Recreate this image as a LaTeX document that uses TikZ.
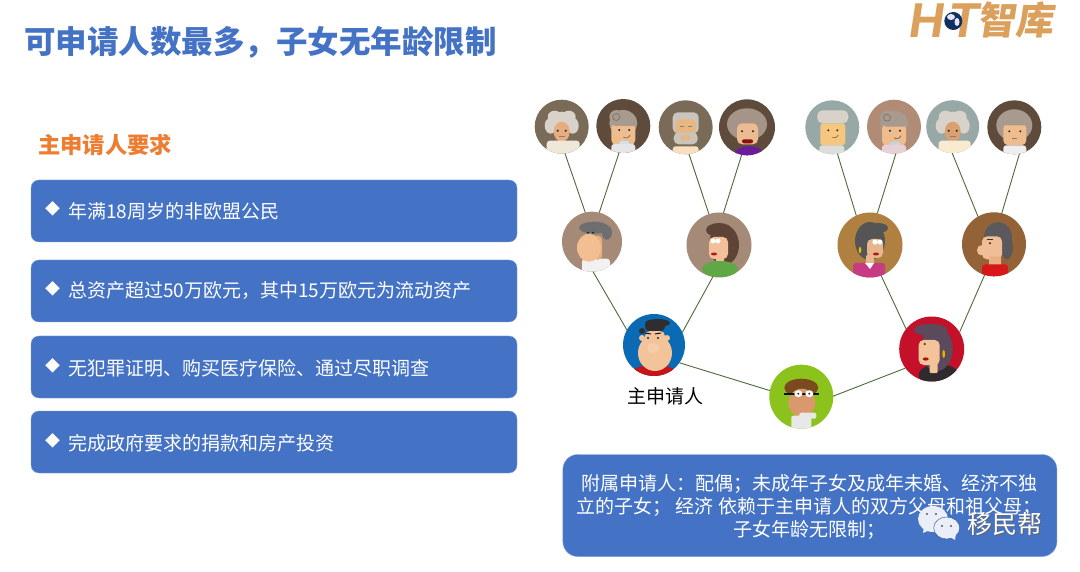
\documentclass[tikz,border=0pt]{standalone}
\usepackage{fontspec}
\setmainfont{Noto Sans CJK SC}
\newfontfamily\logofont{Liberation Sans}
\definecolor{boxblue}{HTML}{4472C4}
\definecolor{linkgreen}{HTML}{4F6A3A}
\definecolor{headorange}{HTML}{ED7D31}
\definecolor{logotan}{HTML}{DBA05C}
\definecolor{bgA}{HTML}{7A6B58}
\definecolor{bgB}{HTML}{5E4B3C}
\definecolor{bgC}{HTML}{97A8A6}
\definecolor{bgD}{HTML}{B08C76}
\definecolor{bgE}{HTML}{A58A77}
\definecolor{skin}{HTML}{EFBC8E}
\definecolor{wisp}{HTML}{D9D2CA}
\definecolor{ash}{HTML}{A89A8E}
\newcommand\dc[1]{\definecolor{#1}{HTML}{#1}}
\dc{E6AE80}\dc{EFE8DA}\dc{E6E6EA}\dc{CFE0EE}\dc{C9C4BC}\dc{E8B680}\dc{F8DFC0}\dc{A69488}\dc{EDBB92}\dc{8B1010}\dc{6A1B9A}\dc{F5C77E}\dc{D8D2C8}\dc{DDDDDA}\dc{E8D0D6}\dc{BDD7EA}\dc{D9A070}\dc{F8EBCF}\dc{EEEEEE}\dc{F3BE92}\dc{E9AE80}\dc{6E6E70}\dc{F1F1F1}\dc{5E4436}\dc{F3C09A}\dc{B01818}\dc{5FA845}\dc{555555}\dc{E8B68C}\dc{C73B84}\dc{E8C000}\dc{5A5A5C}\dc{F0BE96}\dc{E8AE84}\dc{111111}\dc{F6CDA8}\dc{C81414}\dc{2E2E2E}\dc{F3C39A}\dc{2F2A30}\dc{5A4A5C}\dc{B01010}\dc{E8B000}\dc{7B4A1E}\dc{D9996C}\dc{E8E8E8}\dc{D81818}\dc{B08040}\dc{936237}\dc{0A6AB4}\dc{C41028}\dc{8CC21C}\dc{2A5CA8}\dc{12305E}
\newcommand\fs[2]{\fontsize{#1}{#2}\selectfont}
\newcommand\avE[5]{\fill[#5] (#1,#2) ellipse [x radius=#3,y radius=#4];}
\newcommand\avR[6]{\fill[#6,rounded corners=#5pt] (#1,#2) rectangle (#3,#4);}
\newcommand\avD[2]{\fill[black!85] (#1,#2) circle [radius=1.1];}
\newcommand\avatar[5]{\node[avatarc,minimum size=2*#4 pt,fill=#5] (#1) at (#2,#3) {};}
\newenvironment{avin}[3]{\begin{scope}[shift={(#1,#2)}]\clip (0,0) circle [radius=#3];}{\end{scope}}
\newcommand\curly[1]{\avE{0}{-5}{13}{10}{wisp}\avE{-11}{-1}{6}{8}{wisp}\avE{11}{-1}{6}{8}{wisp}\avE{-7}{-10}{7}{6}{wisp}\avE{7}{-10}{7}{6}{wisp}\avE{0}{5}{8}{10}{#1}\avD{-4}{4}\avD{4}{4}\draw[black!50,line width=.5pt] (-3,10) -- (3,10);}
\newcommand\swirl[2]{\avE{0}{-3}{14}{13}{ash}\avR{-12}{-3}{12}{19}{5}{skin}\avR{-11}{-6}{13}{0}{3}{ash}\avE{-7}{-9}{7}{7}{ash}\draw[black!30!ash,line width=.6pt] (-7,-9) circle [radius=3.5];\avD{-4}{4}\avD{6}{4}\draw[black!70,line width=.5pt] (0,11) .. controls (3,13) and (5,12) .. (7,9);\avR{-4}{15}{6}{23}{2}{#2}\avR{-12}{18}{12}{30}{3}{#1}}
\tikzset{
 avatarc/.style={circle,inner sep=0pt,outer sep=0pt,draw=none},
 link/.style={draw=linkgreen,line width=.9pt},
 pill/.style={fill=boxblue,draw=boxblue!70!white,line width=.4pt,rounded corners=8pt,minimum width=486,minimum height=62,inner sep=0pt,outer sep=0pt},
 itemtext/.style={text=white,anchor=west,inner sep=0pt,font=\fs{19}{23}},
 bullettext/.style={text=white,anchor=west,inner sep=0pt,font=\fs{15}{18}},
}
\begin{document}
\begin{tikzpicture}[x=1pt,y=-1pt]
\useasboundingbox (0,0) rectangle (1080,572);
\fill[white] (0,0) rectangle (1080,572);
% title
\node[anchor=west,inner sep=0pt,text=boxblue,font=\fs{31.5}{36}\bfseries] (title) at (24,42) {可申请人数最多，子女无年龄限制};
% logo
\node[anchor=center,inner sep=0pt,text=logotan,xslant=.15,font=\logofont\fs{49}{52}\bfseries] (logoh) at (928,21) {H};
\node[anchor=center,inner sep=0pt,text=logotan,xslant=.15,font=\logofont\fs{49}{52}\bfseries] (logot) at (965,21) {T};
\node[circle,inner sep=0pt,minimum size=18,fill=12305E] (globe) at (953.3,21) {};
\fill[white!90!blue] (951,17) ellipse [x radius=4,y radius=3];
\fill[white!90!blue] (957,22) ellipse [x radius=2.5,y radius=4];
\node[anchor=center,inner sep=0pt,text=logotan,xslant=.15,font=\fs{38}{40}\bfseries] (logoz) at (1017.5,20) {智库};
% left column
\node[anchor=west,inner sep=0pt,text=headorange,font=\fs{22.3}{26}\bfseries] (head) at (38,145) {主申请人要求};
\node[pill,anchor=north west] (b1) at (31,180) {};
\node[pill,anchor=north west] (b2) at (31,260) {};
\node[pill,anchor=north west] (b3) at (31,336) {};
\node[pill,anchor=north west] (b4) at (31,411) {};
\node[bullettext] (d1t) at (45,209) {◆};
\node[itemtext] (t1) at (68,211) {年满18周岁的非欧盟公民};
\node[bullettext] (d2t) at (45,289) {◆};
\node[itemtext] (t2) at (68,291) {总资产超过50万欧元，其中15万欧元为流动资产};
\node[bullettext] (d3t) at (45,366) {◆};
\node[itemtext] (t3) at (68,368) {无犯罪证明、购买医疗保险、通过尽职调查};
\node[bullettext] (d4t) at (45,441) {◆};
\node[itemtext] (t4) at (68,443) {完成政府要求的捐款和房产投资};
% avatars
\avatar{a1}{561.7}{126.7}{27}{bgA}
\avatar{a2}{623.3}{126}{27}{bgB}
\avatar{a3}{685.7}{127.3}{27}{bgA}
\avatar{a4}{747}{127.3}{28}{bgB}
\avatar{e1}{832.3}{127.3}{27}{bgC}
\avatar{e2}{894}{126.7}{27}{bgD}
\avatar{e3}{952.7}{126.7}{26.5}{bgC}
\avatar{e4}{1014.3}{127.3}{27}{bgB}
\avatar{c1}{592}{241.7}{30}{bgE}
\avatar{c2}{719}{245}{32.5}{bgE}
\avatar{c3}{870}{245}{32.5}{B08040}
\avatar{c4}{994}{244.3}{32}{936237}
\avatar{m}{654}{345}{31}{0A6AB4}
\avatar{w}{931.7}{349}{32.5}{C41028}
\avatar{k}{801.3}{396.7}{32}{8CC21C}
% faces
\begin{avin}{561.7}{126.7}{27}\curly{E6AE80}\avR{-15}{14}{18}{30}{3}{EFE8DA}\end{avin}
\begin{avin}{623.3}{126}{27}\swirl{E6E6EA}{CFE0EE}\end{avin}
\begin{avin}{685.7}{127.3}{27}
 \avR{-13}{-15}{13}{6}{5}{C9C4BC}\avR{-10}{-8}{10}{14}{4}{E8B680}\avR{-12}{5}{12}{17}{5}{C9C4BC}\avR{-5}{8}{5}{13}{2}{E8B680}
 \draw[black!50,line width=.5pt] (-6,-1) -- (-2,-1) (2,-1) -- (6,-1);\avR{-13}{19}{13}{30}{3}{F8DFC0}\end{avin}
\begin{avin}{747}{127.3}{28}
 \avE{0}{-3}{20}{16}{A69488}\avR{-10}{-4}{11}{17}{5}{EDBB92}\avD{-5}{4}\avD{6}{4}\avR{-5}{12}{6}{16}{2}{8B1010}\avE{2}{26}{14}{7}{6A1B9A}\end{avin}
\begin{avin}{832.3}{127.3}{27}
 \avR{-12}{-4}{13}{18}{3}{F5C77E}\avR{-15}{-17}{16}{-4}{5}{D8D2C8}\avD{-4}{3}\avD{5}{3}\draw[black!70,line width=.5pt] (0,10) .. controls (3,11) and (5,10) .. (6,8);\avR{-13}{18}{12}{30}{3}{DDDDDA}\end{avin}
\begin{avin}{894}{126.7}{27}\swirl{E8D0D6}{BDD7EA}\end{avin}
\begin{avin}{952.7}{126.7}{26.5}\curly{D9A070}\avR{-14}{14}{18}{30}{3}{F8EBCF}\end{avin}
\begin{avin}{1014.3}{127.3}{27}
 \avE{0}{-2}{18}{16}{ash}\avR{-11}{-4}{12}{18}{5}{skin}\avR{-12}{-10}{13}{-2}{3}{ash}\avD{-5}{4}\avD{6}{4}\draw[black!50,line width=.5pt] (-2,11) -- (3,11);\avR{-11}{18}{12}{30}{3}{EEEEEE}\end{avin}
\begin{avin}{592}{241.7}{30}
 \avR{-10}{17}{18}{34}{3}{F1F1F1}\avR{1}{-6}{10}{18}{4}{E9AE80}\avE{-3}{6}{12}{14}{F3BE92}\avE{2}{-14}{15}{6}{6E6E70}\avE{15}{-9}{5}{7}{6E6E70}\avD{-4}{-9}\avD{1}{-9}\end{avin}
\begin{avin}{719}{245}{32.5}
 \avE{5}{0}{15}{20}{5E4436}\avE{0}{-15}{13}{7}{5E4436}\avR{-10}{-8}{9}{14}{5}{F3C09A}\avR{-3}{10}{5}{22}{1}{F3C09A}
 \fill[white] (-6,-4) circle [radius=2.5] (-1,-4) circle [radius=2.5];\avE{-5}{9}{3}{1.5}{B01818}\avE{1}{24}{18}{8}{5FA845}\end{avin}
\begin{avin}{870}{245}{32.5}
 \avE{0}{-4}{15}{19}{555555}\avE{8}{-17}{10}{5}{555555}\avR{-3}{-6}{13}{13}{5}{E8B68C}\avR{-4}{10}{4}{22}{1}{E8B68C}
 \fill[white] (5,-3) circle [radius=2.6] (10,-3) circle [radius=2.6];\avE{6}{9}{3}{1.5}{B01818}\avR{-17}{18}{15}{34}{3}{C73B84}\fill[white] (-5,18) -- (4,18) -- (0,24) -- cycle;\avE{-10}{5}{1.3}{3}{E8C000}\end{avin}
\begin{avin}{994}{244.3}{32}
 \avE{4}{-7}{14}{15}{5A5A5C}\avE{13}{3}{6}{12}{5A5A5C}\avR{-12}{-8}{8}{15}{5}{F0BE96}\avE{-13}{6}{4}{5}{F0BE96}\avR{-5}{12}{7}{22}{1}{E8AE84}\avD{-4}{-1}\draw[black!80,line width=.7pt] (-7,-5) -- (-1,-5);\avR{-12}{20}{14}{34}{3}{D81818}\end{avin}
\begin{avin}{654}{345}{31}
 \avE{0}{29}{24}{9}{C81414}\avE{1}{8}{17}{18}{F3C39A}\avR{-9}{-14}{11}{6}{5}{F3C39A}\avE{-12}{-7}{3}{3}{F3C39A}\avE{13}{-7}{3}{3}{F3C39A}\avR{-9}{-25}{11}{-14}{4}{2E2E2E}\avE{4}{-22}{12}{4}{2E2E2E}\avE{-12}{-14}{3}{3}{2E2E2E}
 \avD{-6}{-7}\avD{4}{-7}\draw[black,line width=.9pt] (-9,-12) -- (-3,-11) (1,-11) -- (7,-12);\avE{-1}{3}{6}{5}{F6CDA8}\end{avin}
\begin{avin}{931.7}{349}{32.5}
 \avE{7}{26}{20}{11}{2F2A30}\avE{5}{0}{16}{22}{5A4A5C}\avE{-1}{-19}{17}{6}{5A4A5C}\avR{-13}{-9}{8}{16}{5}{F3C39A}\avR{-2}{12}{6}{24}{1}{F3C39A}
 \avD{-7}{-5}\avE{-6}{10}{3}{1.6}{B01010}\avE{12}{5}{1.4}{4}{E8B000}\end{avin}
\begin{avin}{801.3}{396.7}{32}
 \avE{0}{-9}{17}{9}{7B4A1E}\avE{0.5}{6}{13.5}{14}{D9996C}\avR{-17}{-4}{18}{-2}{0}{111111}\avE{-3}{-3}{4}{3.5}{white}\avE{8}{-3}{4}{3.5}{white}\avD{-3}{-3}\avD{8}{-3}\avR{-10}{19}{10}{32}{2}{E8E8E8}\avR{-2}{16}{15}{22}{2}{E8E8E8}\end{avin}
% connectors
\draw[link] (a1.-83) -- (c1.103);
\draw[link] (a2.-99) -- (c1.76);
\draw[link] (a3.-83) -- (c2.108);
\draw[link] (a4.-101) -- (c2.82);
\draw[link] (e1.-79) -- (c3.115);
\draw[link] (e2.-86) -- (c3.77);
\draw[link] (e3.-91) -- (c4.120);
\draw[link] (e4.-79) -- (c4.76);
\draw[link] (c1.-88) -- (m.151);
\draw[link] (c2.-101) -- (m.24);
\draw[link] (c3.-70) -- (w.142);
\draw[link] (c4.-107) -- (w.31);
\draw[link] (m.-35) -- (k.169);
\draw[link] (k.1) -- (w.216);
\node[inner sep=0pt,font=\fs{19}{22}] (mainlab) at (665.5,396) {主申请人};
% note box
\node[fill=boxblue,draw=boxblue!70!white,line width=.4pt,rounded corners=15pt,minimum width=494,minimum height=102,inner sep=0pt,anchor=north west] (note) at (562.7,454.3) {};
\node[text=white,align=center,inner sep=0pt,font=\fs{19}{22.7}] (notetext) at (809,507) {附属申请人：配偶；未成年子女及成年未婚、经济不独\\立的子女； 经济 依赖于主申请人的双方父母和祖父母；\\子女年龄无限制；};
% watermark
\fill[white!88!boxblue] (933,519) ellipse [x radius=15,y radius=13];
\fill[white!88!boxblue] (923,533) -- (924,526) -- (930,530) -- cycle;
\fill[white!88!boxblue,draw=boxblue!70!black,line width=.4pt] (946.7,528) ellipse [x radius=13,y radius=11];
\fill[white!88!boxblue] (955,540) -- (950,537) -- (956,533) -- cycle;
\fill[black!65] (927,514) circle [radius=1.2] (936,514) circle [radius=1.2] (942,526) circle [radius=1.2] (951,526) circle [radius=1.2];
\node[text=black!60,inner sep=0pt,font=\fs{25}{28}] (wmshadow) at (1005.6,524.6) {移民帮};
\node[text=white,inner sep=0pt,font=\fs{25}{28}] (wm) at (1004.8,523.8) {移民帮};
\end{tikzpicture}
\end{document}
